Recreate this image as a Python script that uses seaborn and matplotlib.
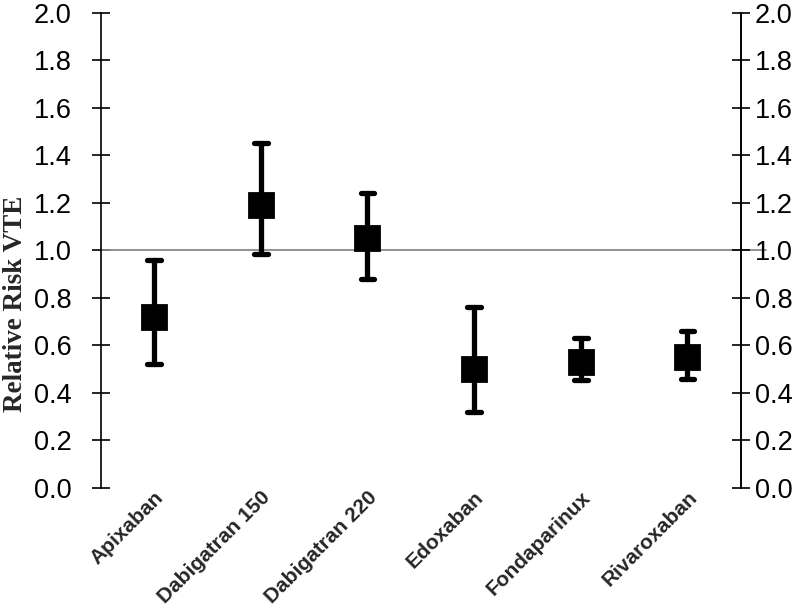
import numpy as np
import pandas as pd
import seaborn as sns
import matplotlib.pyplot as plt

# relative risk of VTE per drug: point estimate and 95% CI
drugs = ["Apixaban", "Dabigatran 150", "Dabigatran 220", "Edoxaban", "Fondaparinux", "Rivaroxaban"]
rr = [0.72, 1.19, 1.05, 0.50, 0.53, 0.55]
ci_low = [0.52, 0.985, 0.88, 0.32, 0.455, 0.46]
ci_high = [0.96, 1.45, 1.24, 0.76, 0.63, 0.66]
yticks = [0.0, 0.2, 0.4, 0.6, 0.8, 1.0, 1.2, 1.4, 1.6, 1.8, 2.0]

# long form: low / estimate / high per drug -> median = estimate, 100% interval = CI
data = pd.DataFrame({
    "drug": drugs * 3,
    "rr": ci_low + rr + ci_high,
})

sns.set_style("white")
plt.rcParams['font.family'] = ['Liberation Sans', 'DejaVu Sans']

fig = plt.figure(figsize=(8, 6.12), dpi=100)
ax = fig.add_axes([0.126, 0.203, 0.8, 0.776])

ax.axhline(1.0, xmax=1.04, color="#888888", linewidth=1.3, zorder=1, clip_on=False)

sns.pointplot(data=data, x="drug", y="rr", order=drugs,
              estimator=np.median, errorbar=("pi", 100),
              color="black", markers="s", linestyles="none",
              markersize=17.5, capsize=0.13,
              err_kws={"linewidth": 3.8}, ax=ax, zorder=3)

# thinner caps than the whiskers, like the original
for ln in ax.lines[1:]:
    xd = ln.get_xdata()
    if len(xd) == 2 and xd[0] != xd[1]:
        ln.set_linewidth(2.4)

ax.set_xlim(-0.5, 5.5)
ax.set_ylim(0, 2.0)
ax.set_yticks(yticks)
ax.set_yticklabels([f"{v:.1f}" for v in yticks], fontsize=19.5)
ax.tick_params(axis="y", direction="inout", length=13, width=1.2, pad=14.4, colors="black")
ax.tick_params(axis="x", length=0, pad=0)
ax.set_xticks(range(len(drugs)))
ax.set_xticklabels(drugs, rotation=45, ha="right", rotation_mode="anchor",
                   fontsize=15, fontweight="bold")

ax.set_xlabel("")
ax.set_ylabel("Relative Risk VTE", family="Liberation Serif", fontweight="bold", fontsize=19.5)
ax.yaxis.label.set_verticalalignment("center")
ax.yaxis.set_label_coords(-0.133, 0.387)

for s in ["top", "bottom"]:
    ax.spines[s].set_visible(False)
for s in ["left", "right"]:
    ax.spines[s].set_color("black")
    ax.spines[s].set_linewidth(1.2)

ax2 = ax.twinx()
ax2.set_ylim(0, 2.0)
ax2.set_yticks(yticks)
ax2.set_yticklabels([f"{v:.1f}" for v in yticks], fontsize=19.5)
ax2.tick_params(axis="y", direction="inout", length=13, width=1.2, pad=3.6, colors="black")
for s in ["top", "bottom", "left"]:
    ax2.spines[s].set_visible(False)
ax2.spines["right"].set_color("black")
ax2.spines["right"].set_linewidth(1.2)

fig.savefig("out.png", dpi=100)
